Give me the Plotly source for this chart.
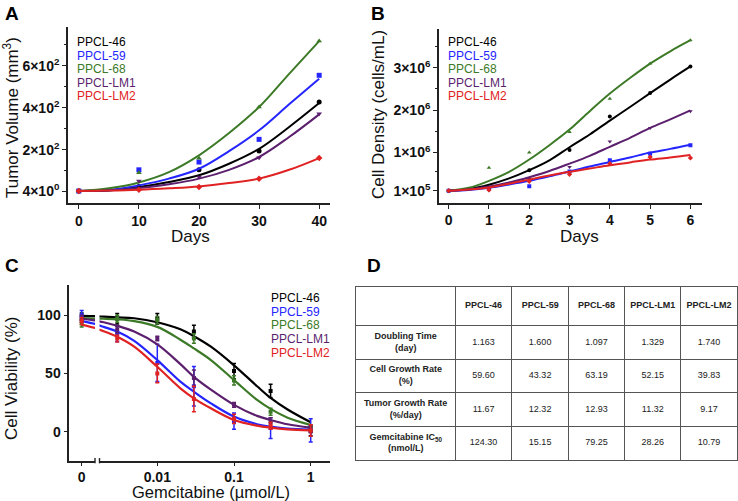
import plotly.graph_objects as go

W, H = 738, 501

# ---------------- data ----------------
names = ["PPCL-46", "PPCL-59", "PPCL-68", "PPCL-LM1", "PPCL-LM2"]
colors = ["#000000", "#2525ff", "#3c7a27", "#5b1f6e", "#e02222"]
symbols = ["circle", "square", "triangle-up", "triangle-down", "diamond"]

# Panel A: tumor volume (mm^3)
days_a = [0, 10, 20, 30, 40]
tumor_46 = [4, 26, 105, 194, 428]
tumor_59 = [4, 105, 142, 250, 555]
tumor_68 = [4, 91, 160, 404, 718]
tumor_lm1 = [4, 52, 71, 162, 372]
tumor_lm2 = [4, 10, 23, 63, 161]
days_a_fit = [0, 5, 10, 15, 20, 25, 30, 35, 40]
tumor_fit_46 = [4, 7, 23, 47, 79, 134, 205, 309, 423]
tumor_fit_59 = [4, 10, 31, 63, 110, 194, 293, 417, 539]
tumor_fit_68 = [4, 17, 45, 94, 174, 280, 404, 562, 718]
tumor_fit_lm1 = [4, 7, 18, 36, 63, 105, 166, 261, 369]
tumor_fit_lm2 = [4, 6, 10, 17, 26, 42, 63, 105, 161]
tumor_ticks = [4, 200, 400, 600]
tumor_ticktext = ["4×10<sup>0</sup>", "2×10<sup>2</sup>", "4×10<sup>2</sup>", "6×10<sup>2</sup>"]

# Panel B: cell density (cells/mL, millions)
days_b = [0, 1, 2, 3, 4, 5, 6]
dens_46 = [0.10, 0.156, 0.584, 1.057, 1.850, 2.401, 3.03]
dens_59 = [0.10, 0.139, 0.203, 0.554, 0.816, 0.970, 1.173]
dens_68 = [0.10, 0.642, 1.000, 1.483, 2.266, 3.098, 3.649]
dens_lm1 = [0.10, 0.110, 0.380, 0.661, 1.260, 1.580, 1.976]
dens_lm2 = [0.10, 0.119, 0.322, 0.487, 0.738, 0.893, 0.874]
days_b_fit = [0, 0.5, 1, 1.5, 2, 2.5, 3, 3.5, 4, 4.5, 5, 5.5, 6]
dens_fit_46 = [0.10, 0.139, 0.241, 0.390, 0.584, 0.816, 1.125, 1.425, 1.754, 2.073, 2.401, 2.721, 3.030]
dens_fit_59 = [0.10, 0.119, 0.168, 0.245, 0.332, 0.438, 0.554, 0.671, 0.777, 0.883, 0.999, 1.086, 1.183]
dens_fit_68 = [0.10, 0.168, 0.332, 0.545, 0.835, 1.173, 1.541, 1.976, 2.392, 2.759, 3.098, 3.388, 3.649]
dens_fit_lm1 = [0.10, 0.129, 0.197, 0.293, 0.419, 0.564, 0.738, 0.922, 1.135, 1.347, 1.580, 1.783, 1.995]
dens_fit_lm2 = [0.10, 0.129, 0.177, 0.264, 0.361, 0.458, 0.545, 0.622, 0.700, 0.767, 0.835, 0.883, 0.941]
dens_ticks = [0.1, 1, 2, 3]
dens_ticktext = ["1×10<sup>5</sup>", "1×10<sup>6</sup>", "2×10<sup>6</sup>", "3×10<sup>6</sup>"]

# Panel C: viability (%) vs gemcitabine (umol/L); the "0" dose sits at 0.001 on the log axis
conc = [0.001, 0.003, 0.01, 0.03, 0.1, 0.3, 1]
via_46 = [99, 97, 97, 86, 52, 35, 0.5]
via_59 = [100, 84, 59, 39, 9, 3, 1]
via_68 = [93, 97, 96, 80, 44, 17, 3]
via_lm1 = [97, 88, 80, 46, 23, 8, 2]
via_lm2 = [95, 80, 50, 28, 11, 5, 1]
err_46 = [3, 4.5, 4.5, 5.5, 6.5, 5.7, 4]
err_59 = [4, 6.5, 16, 17, 7, 9, 10]
err_68 = [3, 3, 3, 4, 4, 3, 3]
err_lm1 = [3, 3, 2, 7, 2, 4, 3]
err_lm2 = [3, 3, 8, 11, 4, 3, 5]
conc_fit = [0.001, 0.0015, 0.002, 0.003, 0.005, 0.01, 0.02, 0.03, 0.05, 0.1, 0.2, 0.3, 0.5, 1]
via_fit_46 = [99.5, 99.2, 98.8, 98.2, 97.4, 94, 88, 82, 73, 57, 39, 29, 19, 8]
via_fit_59 = [95, 92.5, 90, 86, 78, 61.5, 43, 34.3, 24.3, 12.9, 6.3, 4.3, 2.6, 1.7]
via_fit_68 = [97.5, 97.2, 97, 96.5, 95, 90, 79, 71.5, 61.5, 44.3, 27.2, 19.5, 12, 5.8]
via_fit_lm1 = [97, 95.5, 94, 91, 86, 75, 58, 47, 36, 23, 13.5, 10, 6.3, 3.4]
via_fit_lm2 = [92, 89, 86.3, 81.5, 73, 55.7, 37.2, 28.6, 20, 10, 5.1, 3.4, 2, 1]
conc_ticks_zero = [0.001]
conc_ticktext_zero = ["0"]
conc_ticks = [0.01, 0.1, 1]
conc_ticktext = ["0.01", "0.1", "1"]

# Panel D: table
row_labels = ["Doubling Time<br>(day)", "Cell Growth Rate<br>(%)",
              "Tumor Growth Rate<br>(%/day)", "Gemcitabine IC<sub>50</sub><br>(nmol/L)"]
doubling_time = [1.163, 1.600, 1.097, 1.329, 1.740]
cell_growth = [59.60, 43.32, 63.19, 52.15, 39.83]
tumor_growth = [11.67, 12.32, 12.93, 11.32, 9.17]
ic50 = [124.30, 15.15, 79.25, 28.26, 10.79]

# ---------------- figure ----------------
FONT = "Arial, Liberation Sans, sans-serif"
def px_x(p):
    return p / W
def px_y(p):
    return 1 - p / H

fig = go.Figure()

tumor_pts = [tumor_46, tumor_59, tumor_68, tumor_lm1, tumor_lm2]
tumor_fit = [tumor_fit_46, tumor_fit_59, tumor_fit_68, tumor_fit_lm1, tumor_fit_lm2]
dens_pts = [dens_46, dens_59, dens_68, dens_lm1, dens_lm2]
dens_fit = [dens_fit_46, dens_fit_59, dens_fit_68, dens_fit_lm1, dens_fit_lm2]
via_pts = [via_46, via_59, via_68, via_lm1, via_lm2]
via_err = [err_46, err_59, err_68, err_lm1, err_lm2]
via_fit = [via_fit_46, via_fit_59, via_fit_68, via_fit_lm1, via_fit_lm2]

for i in range(5):
    fig.add_trace(go.Scatter(x=days_a_fit, y=tumor_fit[i], mode="lines",
                             line=dict(color=colors[i], width=2, shape="spline"),
                             xaxis="x", yaxis="y", showlegend=False))
    fig.add_trace(go.Scatter(x=days_a, y=tumor_pts[i], mode="markers",
                             marker=dict(color=colors[i], size=5, symbol=symbols[i]),
                             xaxis="x", yaxis="y", showlegend=False))
    fig.add_trace(go.Scatter(x=days_b_fit, y=[v * 1e6 for v in dens_fit[i]], mode="lines",
                             line=dict(color=colors[i], width=2, shape="spline"),
                             xaxis="x2", yaxis="y2", showlegend=False))
    fig.add_trace(go.Scatter(x=days_b, y=[v * 1e6 for v in dens_pts[i]], mode="markers",
                             marker=dict(color=colors[i], size=4, symbol=symbols[i]),
                             xaxis="x2", yaxis="y2", showlegend=False))
    for xa in ["x3", "x4"]:
        fig.add_trace(go.Scatter(x=conc_fit, y=via_fit[i], mode="lines",
                                 line=dict(color=colors[i], width=2.2, shape="spline"),
                                 xaxis=xa, yaxis="y3", showlegend=False))
        fig.add_trace(go.Scatter(x=conc, y=via_pts[i], mode="markers",
                                 marker=dict(color=colors[i], size=4, symbol="square"),
                                 error_y=dict(type="data", array=via_err[i], color=colors[i],
                                              thickness=1.5, width=2),
                                 xaxis=xa, yaxis="y3", showlegend=False))

# ---- Panel D: table laid out on its own hidden cartesian grid ----
col_widths = [99.3, 56.4, 56.6, 56, 56.4, 56]
row_heights = [39, 33.5, 33.5, 33.5, 33.5]
col_edges = [sum(col_widths[:k]) for k in range(len(col_widths) + 1)]
row_edges = [sum(row_heights[:k]) for k in range(len(row_heights) + 1)]
col_mid = [(col_edges[k] + col_edges[k + 1]) / 2 for k in range(len(col_widths))]
row_mid = [(row_edges[k] + row_edges[k + 1]) / 2 for k in range(len(row_heights))]

table_rows = [[""] + ["<b>" + n + "</b>" for n in names]]
value_rows = [[f"{v:.3f}" for v in doubling_time], [f"{v:.2f}" for v in cell_growth],
              [f"{v:.2f}" for v in tumor_growth], [f"{v:.2f}" for v in ic50]]
for r in range(4):
    table_rows.append(["<b>" + row_labels[r] + "</b>"] + value_rows[r])

tx, ty, tt = [], [], []
for r, row in enumerate(table_rows):
    for c, s in enumerate(row):
        tx.append(col_mid[c])
        ty.append(row_mid[r])
        tt.append(s)
fig.add_trace(go.Scatter(x=tx, y=ty, text=tt, mode="text", textposition="middle center",
                         textfont=dict(family=FONT, size=9, color="#222222"),
                         xaxis="x5", yaxis="y5", showlegend=False, hoverinfo="skip",
                         cliponaxis=False))

grid_style = dict(showgrid=True, gridcolor="#555555", gridwidth=1, showline=True,
                  mirror=True, linecolor="#555555", linewidth=1, ticks="",
                  showticklabels=False, zeroline=False, fixedrange=True)

axis_style = dict(showline=True, linecolor="#222222", linewidth=1.6, ticks="outside",
                  ticklen=4, tickwidth=1.4, tickcolor="#222222", showgrid=False,
                  zeroline=False,
                  tickfont=dict(family=FONT, size=14, color="#111111", weight="bold"))
axis_style_c = dict(axis_style, ticklen=3)
minor_style = dict(ticks="outside", ticklen=2, tickwidth=1.2, tickcolor="#222222")

fig.update_layout(
    width=W, height=H, margin=dict(l=0, r=0, t=0, b=0),
    paper_bgcolor="white", plot_bgcolor="white",
    xaxis=dict(domain=[px_x(68), px_x(330)], range=[-1.8, 41.8], anchor="y",
               tickvals=days_a, **axis_style),
    yaxis=dict(domain=[px_y(203), px_y(27)], range=[-53, 785], anchor="x",
               tickvals=tumor_ticks, ticktext=tumor_ticktext,
               minor=dict(tickvals=[100, 300, 500, 700], **minor_style), **axis_style),
    xaxis2=dict(domain=[px_x(439), px_x(701.7)], range=[-0.24, 6.28], anchor="y2",
                tickvals=days_b, **axis_style),
    yaxis2=dict(domain=[px_y(202.7), px_y(29)], range=[-0.183e6, 3.913e6], anchor="x2",
                tickvals=[v * 1e6 for v in dens_ticks], ticktext=dens_ticktext,
                minor=dict(tickvals=[0.55e6, 1.5e6, 2.5e6, 3.5e6], **minor_style), **axis_style),
    xaxis3=dict(domain=[px_x(69.3), px_x(95)], type="log", range=[-3.1617, -2.8266],
                anchor="y3", tickvals=conc_ticks_zero, ticktext=conc_ticktext_zero, **axis_style_c),
    xaxis4=dict(domain=[px_x(99.5), px_x(330)], type="log", range=[-2.7536, 0.2516],
                anchor="y3", tickvals=conc_ticks, ticktext=conc_ticktext, **axis_style_c),
    yaxis3=dict(domain=[px_y(460.7), px_y(285)], range=[-25, 126], anchor="x3",
                tickvals=[0, 50, 100], **axis_style),
    xaxis5=dict(domain=[px_x(356), px_x(737)], range=[col_edges[0], col_edges[-1]], anchor="y5",
                tickvals=col_edges[1:-1], **grid_style),
    yaxis5=dict(domain=[px_y(460), px_y(286.7)], range=[row_edges[-1], row_edges[0]], anchor="x5",
                tickvals=row_edges[1:-1], **grid_style),
)

# axis break marks in panel C
for xref, xv in [("x3 domain", 1), ("x4 domain", 0)]:
    fig.add_shape(type="line", xref=xref, yref="y3 domain", x0=xv, x1=xv, y0=-0.015, y1=0.015,
                  line=dict(color="#222222", width=1.4))

ann = []
def text(xp, yp, s, size, color="#111111", xanchor="center", angle=0, bold=False):
    ann.append(dict(x=px_x(xp), y=px_y(yp), xref="paper", yref="paper", text=s,
                    showarrow=False, xanchor=xanchor, yanchor="middle", textangle=angle,
                    font=dict(family=FONT, size=size, color=color,
                              weight="bold" if bold else "normal")))

# panel letters
text(12, 13, "A", 19, "#000000", bold=True)
text(378, 13, "B", 19, "#000000", bold=True)
text(12, 265, "C", 19, "#000000", bold=True)
text(374, 265, "D", 19, "#000000", bold=True)

# axis titles
text(190, 236, "Days", 17)
text(11, 118, "Tumor Volume (mm<sup>3</sup>)", 17, angle=-90)
text(579, 236, "Days", 17)
text(379, 115, "Cell Density (cells/mL)", 17, angle=-90)
text(211, 492, "Gemcitabine (µmol/L)", 16.5)
text(11, 379, "Cell Viability (%)", 17, angle=-90)

# in-plot legends
leg_a_y = [42, 55.7, 69.3, 82.7, 96.5]
leg_c_y = [298.3, 311.7, 325.3, 338.5, 352.5]
for i in range(5):
    text(75.3, leg_a_y[i], names[i], 12, colors[i], xanchor="left")
    text(446.3, leg_a_y[i], names[i], 12, colors[i], xanchor="left")
    text(268.7, leg_c_y[i], names[i], 12, colors[i], xanchor="left")

fig.update_layout(annotations=ann)
fig.write_html("out.html", config={"displayModeBar": False},
               post_script="document.body.style.margin='0';document.body.style.padding='0';")
